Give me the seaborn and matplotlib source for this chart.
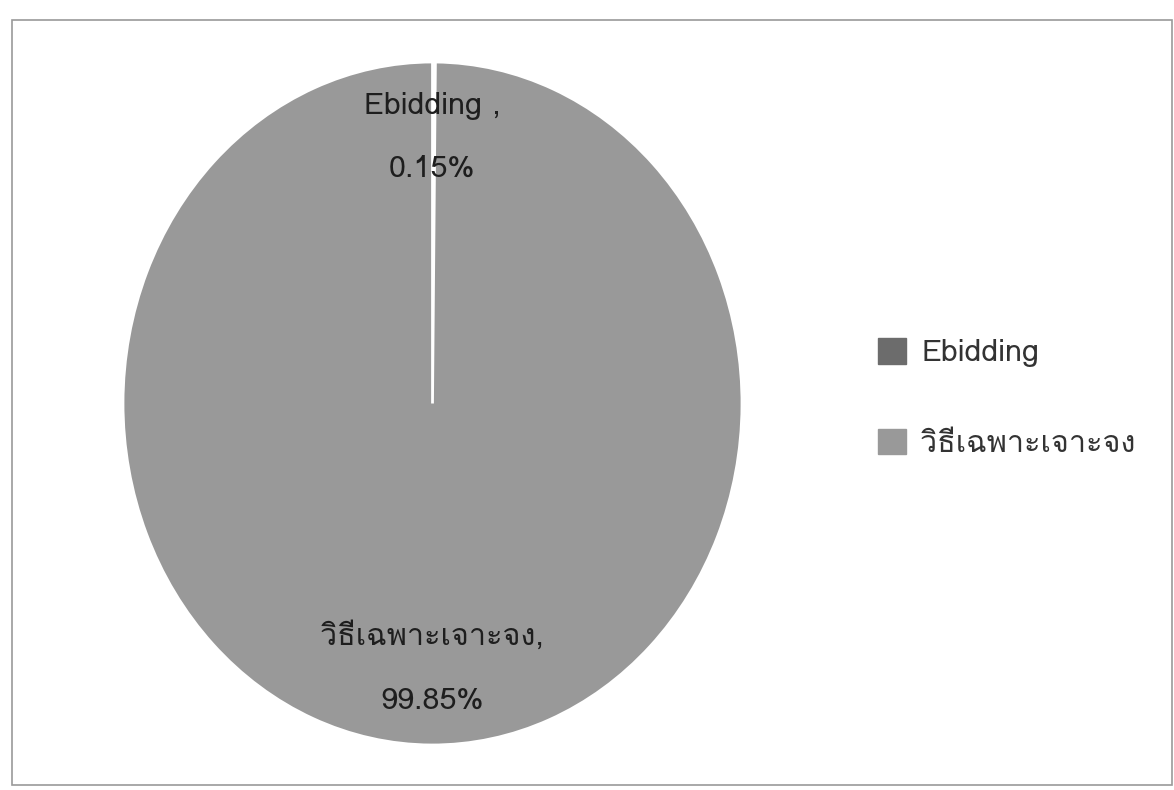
import matplotlib
matplotlib.use("Agg")
import matplotlib.pyplot as plt
import seaborn as sns
from matplotlib import font_manager
from matplotlib.patches import Rectangle, Patch

# ---- data ----
categories = ["Ebidding", "วิธีเฉพาะเจาะจง"]
values = [0.15, 99.85]
colors = ["#6c6c6c", "#999999"]

sns.set_theme(style="white")

# find a font that has Thai glyphs
thai_fonts = []
try:
    from fontTools.ttLib import TTFont
    seen = set()
    for f in font_manager.fontManager.ttflist:
        if f.name in seen:
            continue
        try:
            t = TTFont(f.fname, fontNumber=0, lazy=True)
            cmap = t.getBestCmap()
            if cmap and 0x0E27 in cmap:
                thai_fonts.append(f.name)
                seen.add(f.name)
        except Exception:
            pass
except Exception:
    pass
family = thai_fonts[:1] + ["Open Sans", "DejaVu Sans"]
plt.rcParams["font.family"] = family

fig = plt.figure(figsize=(11.74, 7.90), dpi=100)
fig.patch.set_facecolor("white")

# outer chart frame
fig.patches.append(Rectangle((12 / 1174, 5 / 790), 1160 / 1174, 765 / 790,
                             transform=fig.transFigure, fill=False,
                             edgecolor="#9a9a9a", linewidth=1.2))

ax = fig.add_axes([123 / 1174, 45 / 790, 619 / 1174, 683 / 790])
wedges, _ = ax.pie(values, colors=colors, startangle=90, counterclock=False,
                   wedgeprops=dict(edgecolor="white", linewidth=2.0))
ax.set_aspect("auto")
ax.set_xlim(-1, 1)
ax.set_ylim(-1, 1)
ax.axis("off")

total = sum(values)
pct = [v / total * 100 for v in values]
tc = "#1e1e1e"
fs = 22
ax.text(0, 0.871, f"{categories[0]} ,", ha="center", va="center", fontsize=fs, color=tc)
ax.text(0, 0.687, f"{pct[0]:.2f}%", ha="center", va="center", fontsize=fs, color=tc)
ax.text(0, -0.681, f"{categories[1]},", ha="center", va="center", fontsize=fs, color=tc)
ax.text(0, -0.871, f"{pct[1]:.2f}%", ha="center", va="center", fontsize=fs, color=tc)

handles = [Patch(facecolor=c, edgecolor=c) for c in colors]
fig.legend(handles, categories, loc="center left",
           bbox_to_anchor=(866 / 1174, (790 - 398) / 790), frameon=False,
           borderaxespad=0, fontsize=22, handlelength=0.9, handleheight=0.9,
           labelspacing=2.0, handletextpad=0.5, labelcolor="#333333")

fig.savefig("out.png", dpi=100, facecolor="white")
